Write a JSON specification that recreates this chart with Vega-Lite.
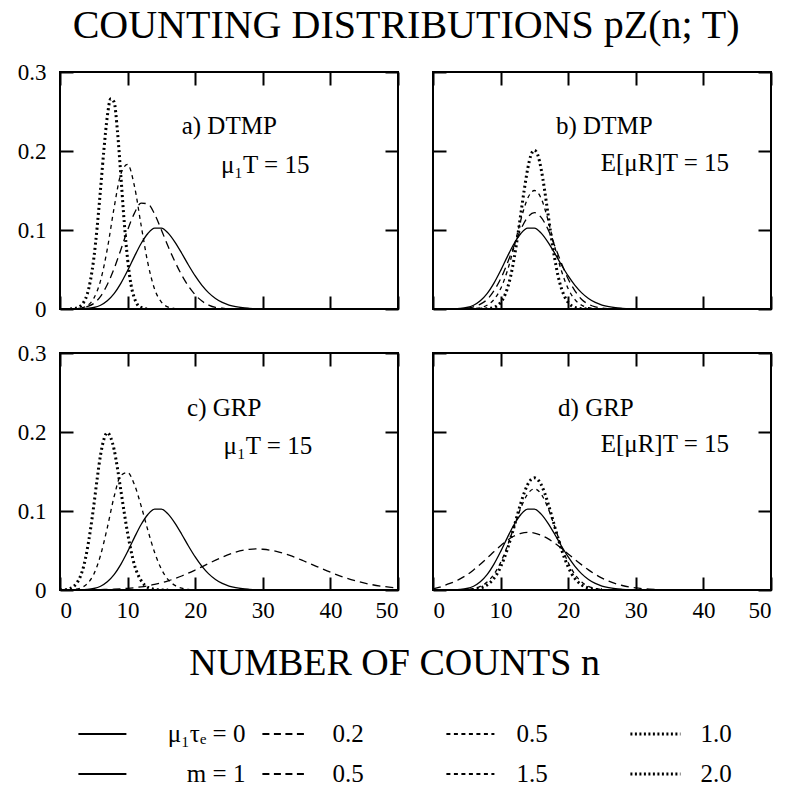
{
  "$schema": "https://vega.github.io/schema/vega-lite/v6.json",
  "padding": {"left": 16, "top": 6, "right": 10, "bottom": 0},
  "title": {"text": "COUNTING DISTRIBUTIONS pZ(n; T)", "fontSize": 40, "font": "Liberation Serif", "fontWeight": "normal", "anchor": "middle", "offset": 14, "color": "black"},
  "datasets": {
    "poisson": [
      {"n":0,"p":0},{"n":1,"p":0},{"n":2,"p":0.00003},{"n":3,"p":0.00017},{"n":4,"p":0.00065},{"n":5,"p":0.0019},{"n":6,"p":0.0048},{"n":7,"p":0.0104},{"n":8,"p":0.0194},{"n":9,"p":0.0324},{"n":10,"p":0.0486},{"n":11,"p":0.0663},{"n":12,"p":0.0829},{"n":13,"p":0.0956},{"n":14,"p":0.1024},{"n":15,"p":0.1024},{"n":16,"p":0.096},{"n":17,"p":0.0847},{"n":18,"p":0.0706},{"n":19,"p":0.0557},{"n":20,"p":0.0418},{"n":21,"p":0.0299},{"n":22,"p":0.0204},{"n":23,"p":0.0133},{"n":24,"p":0.0083},{"n":25,"p":0.005},{"n":26,"p":0.0029},{"n":27,"p":0.0016},{"n":28,"p":0.0009},{"n":29,"p":0.0004},{"n":30,"p":0.0002},{"n":31,"p":0.0001},{"n":32,"p":0},{"n":40,"p":0}
    ],
    "curves": [
      {"panel":"a","s":"s1","n":2,"p":0},{"panel":"a","s":"s1","n":3,"p":0.001},{"panel":"a","s":"s1","n":4,"p":0.003},{"panel":"a","s":"s1","n":5,"p":0.007},{"panel":"a","s":"s1","n":6,"p":0.016},{"panel":"a","s":"s1","n":7,"p":0.031},{"panel":"a","s":"s1","n":8,"p":0.051},{"panel":"a","s":"s1","n":9,"p":0.075},{"panel":"a","s":"s1","n":10,"p":0.1},{"panel":"a","s":"s1","n":11,"p":0.121},{"panel":"a","s":"s1","n":12,"p":0.134},{"panel":"a","s":"s1","n":13,"p":0.133},{"panel":"a","s":"s1","n":14,"p":0.12},{"panel":"a","s":"s1","n":15,"p":0.1},{"panel":"a","s":"s1","n":16,"p":0.079},{"panel":"a","s":"s1","n":17,"p":0.06},{"panel":"a","s":"s1","n":18,"p":0.043},{"panel":"a","s":"s1","n":19,"p":0.029},{"panel":"a","s":"s1","n":20,"p":0.018},{"panel":"a","s":"s1","n":21,"p":0.01},{"panel":"a","s":"s1","n":22,"p":0.005},{"panel":"a","s":"s1","n":23,"p":0.002},{"panel":"a","s":"s1","n":24,"p":0.001},{"panel":"a","s":"s1","n":25,"p":0},
      {"panel":"a","s":"s2","n":2,"p":0},{"panel":"a","s":"s2","n":3,"p":0.001},{"panel":"a","s":"s2","n":4,"p":0.004},{"panel":"a","s":"s2","n":5,"p":0.0135},{"panel":"a","s":"s2","n":6,"p":0.036},{"panel":"a","s":"s2","n":7,"p":0.076},{"panel":"a","s":"s2","n":8,"p":0.128},{"panel":"a","s":"s2","n":9,"p":0.171},{"panel":"a","s":"s2","n":10,"p":0.183},{"panel":"a","s":"s2","n":11,"p":0.156},{"panel":"a","s":"s2","n":12,"p":0.106},{"panel":"a","s":"s2","n":13,"p":0.058},{"panel":"a","s":"s2","n":14,"p":0.025},{"panel":"a","s":"s2","n":15,"p":0.0087},{"panel":"a","s":"s2","n":16,"p":0.0024},{"panel":"a","s":"s2","n":17,"p":0.0006},{"panel":"a","s":"s2","n":18,"p":0},
      {"panel":"a","s":"s3","n":1.5,"p":0},{"panel":"a","s":"s3","n":2,"p":0.0005},{"panel":"a","s":"s3","n":2.5,"p":0.0014},{"panel":"a","s":"s3","n":3,"p":0.0036},{"panel":"a","s":"s3","n":3.5,"p":0.0085},{"panel":"a","s":"s3","n":4,"p":0.018},{"panel":"a","s":"s3","n":4.5,"p":0.036},{"panel":"a","s":"s3","n":5,"p":0.064},{"panel":"a","s":"s3","n":5.5,"p":0.104},{"panel":"a","s":"s3","n":6,"p":0.152},{"panel":"a","s":"s3","n":6.5,"p":0.202},{"panel":"a","s":"s3","n":7,"p":0.244},{"panel":"a","s":"s3","n":7.5,"p":0.266},{"panel":"a","s":"s3","n":8,"p":0.262},{"panel":"a","s":"s3","n":8.5,"p":0.225},{"panel":"a","s":"s3","n":9,"p":0.169},{"panel":"a","s":"s3","n":9.5,"p":0.11},{"panel":"a","s":"s3","n":10,"p":0.063},{"panel":"a","s":"s3","n":10.5,"p":0.031},{"panel":"a","s":"s3","n":11,"p":0.014},{"panel":"a","s":"s3","n":11.5,"p":0.005},{"panel":"a","s":"s3","n":12,"p":0.002},{"panel":"a","s":"s3","n":12.5,"p":0.0005},{"panel":"a","s":"s3","n":13,"p":0},
      {"panel":"b","s":"s1","n":3,"p":0},{"panel":"b","s":"s1","n":4,"p":0.0004},{"panel":"b","s":"s1","n":5,"p":0.0011},{"panel":"b","s":"s1","n":6,"p":0.0027},{"panel":"b","s":"s1","n":7,"p":0.0061},{"panel":"b","s":"s1","n":8,"p":0.012},{"panel":"b","s":"s1","n":9,"p":0.023},{"panel":"b","s":"s1","n":10,"p":0.038},{"panel":"b","s":"s1","n":11,"p":0.058},{"panel":"b","s":"s1","n":12,"p":0.08},{"panel":"b","s":"s1","n":13,"p":0.101},{"panel":"b","s":"s1","n":14,"p":0.116},{"panel":"b","s":"s1","n":15,"p":0.122},{"panel":"b","s":"s1","n":16,"p":0.116},{"panel":"b","s":"s1","n":17,"p":0.101},{"panel":"b","s":"s1","n":18,"p":0.08},{"panel":"b","s":"s1","n":19,"p":0.058},{"panel":"b","s":"s1","n":20,"p":0.038},{"panel":"b","s":"s1","n":21,"p":0.023},{"panel":"b","s":"s1","n":22,"p":0.012},{"panel":"b","s":"s1","n":23,"p":0.0061},{"panel":"b","s":"s1","n":24,"p":0.0027},{"panel":"b","s":"s1","n":25,"p":0.0011},{"panel":"b","s":"s1","n":26,"p":0.0004},{"panel":"b","s":"s1","n":27,"p":0},
      {"panel":"b","s":"s2","n":4,"p":0},{"panel":"b","s":"s2","n":5,"p":0.0001},{"panel":"b","s":"s2","n":6,"p":0.0005},{"panel":"b","s":"s2","n":7,"p":0.0016},{"panel":"b","s":"s2","n":8,"p":0.0047},{"panel":"b","s":"s2","n":9,"p":0.0118},{"panel":"b","s":"s2","n":10,"p":0.0256},{"panel":"b","s":"s2","n":11,"p":0.0484},{"panel":"b","s":"s2","n":12,"p":0.079},{"panel":"b","s":"s2","n":13,"p":0.113},{"panel":"b","s":"s2","n":14,"p":0.14},{"panel":"b","s":"s2","n":15,"p":0.15},{"panel":"b","s":"s2","n":16,"p":0.14},{"panel":"b","s":"s2","n":17,"p":0.113},{"panel":"b","s":"s2","n":18,"p":0.079},{"panel":"b","s":"s2","n":19,"p":0.0484},{"panel":"b","s":"s2","n":20,"p":0.0256},{"panel":"b","s":"s2","n":21,"p":0.0118},{"panel":"b","s":"s2","n":22,"p":0.0047},{"panel":"b","s":"s2","n":23,"p":0.0016},{"panel":"b","s":"s2","n":24,"p":0.0005},{"panel":"b","s":"s2","n":25,"p":0.0001},{"panel":"b","s":"s2","n":26,"p":0},
      {"panel":"b","s":"s3","n":7,"p":0},{"panel":"b","s":"s3","n":7.5,"p":0.0002},{"panel":"b","s":"s3","n":8,"p":0.0004},{"panel":"b","s":"s3","n":8.5,"p":0.0009},{"panel":"b","s":"s3","n":9,"p":0.002},{"panel":"b","s":"s3","n":9.5,"p":0.0042},{"panel":"b","s":"s3","n":10,"p":0.0083},{"panel":"b","s":"s3","n":10.5,"p":0.0152},{"panel":"b","s":"s3","n":11,"p":0.026},{"panel":"b","s":"s3","n":11.5,"p":0.042},{"panel":"b","s":"s3","n":12,"p":0.064},{"panel":"b","s":"s3","n":12.5,"p":0.091},{"panel":"b","s":"s3","n":13,"p":0.121},{"panel":"b","s":"s3","n":13.5,"p":0.151},{"panel":"b","s":"s3","n":14,"p":0.177},{"panel":"b","s":"s3","n":14.5,"p":0.195},{"panel":"b","s":"s3","n":15,"p":0.201},{"panel":"b","s":"s3","n":15.5,"p":0.195},{"panel":"b","s":"s3","n":16,"p":0.177},{"panel":"b","s":"s3","n":16.5,"p":0.151},{"panel":"b","s":"s3","n":17,"p":0.121},{"panel":"b","s":"s3","n":17.5,"p":0.091},{"panel":"b","s":"s3","n":18,"p":0.064},{"panel":"b","s":"s3","n":18.5,"p":0.042},{"panel":"b","s":"s3","n":19,"p":0.026},{"panel":"b","s":"s3","n":19.5,"p":0.0152},{"panel":"b","s":"s3","n":20,"p":0.0083},{"panel":"b","s":"s3","n":20.5,"p":0.0042},{"panel":"b","s":"s3","n":21,"p":0.002},{"panel":"b","s":"s3","n":21.5,"p":0.0009},{"panel":"b","s":"s3","n":22,"p":0.0004},{"panel":"b","s":"s3","n":22.5,"p":0.0002},{"panel":"b","s":"s3","n":23,"p":0},
      {"panel":"c","s":"s1","n":2,"p":0},{"panel":"c","s":"s1","n":4,"p":0.0002},{"panel":"c","s":"s1","n":6,"p":0.0005},{"panel":"c","s":"s1","n":8,"p":0.001},{"panel":"c","s":"s1","n":10,"p":0.0021},{"panel":"c","s":"s1","n":12,"p":0.004},{"panel":"c","s":"s1","n":14,"p":0.007},{"panel":"c","s":"s1","n":16,"p":0.0116},{"panel":"c","s":"s1","n":18,"p":0.0177},{"panel":"c","s":"s1","n":20,"p":0.0253},{"panel":"c","s":"s1","n":22,"p":0.0336},{"panel":"c","s":"s1","n":24,"p":0.0416},{"panel":"c","s":"s1","n":26,"p":0.048},{"panel":"c","s":"s1","n":28,"p":0.0515},{"panel":"c","s":"s1","n":29,"p":0.052},{"panel":"c","s":"s1","n":30,"p":0.0516},{"panel":"c","s":"s1","n":32,"p":0.0489},{"panel":"c","s":"s1","n":34,"p":0.0437},{"panel":"c","s":"s1","n":36,"p":0.037},{"panel":"c","s":"s1","n":38,"p":0.0297},{"panel":"c","s":"s1","n":40,"p":0.0225},{"panel":"c","s":"s1","n":42,"p":0.0161},{"panel":"c","s":"s1","n":44,"p":0.011},{"panel":"c","s":"s1","n":46,"p":0.007},{"panel":"c","s":"s1","n":48,"p":0.0043},{"panel":"c","s":"s1","n":50,"p":0.0025},
      {"panel":"c","s":"s2","n":0,"p":0},{"panel":"c","s":"s2","n":1,"p":0.0001},{"panel":"c","s":"s2","n":2,"p":0.0006},{"panel":"c","s":"s2","n":3,"p":0.0024},{"panel":"c","s":"s2","n":4,"p":0.0077},{"panel":"c","s":"s2","n":5,"p":0.02},{"panel":"c","s":"s2","n":6,"p":0.044},{"panel":"c","s":"s2","n":7,"p":0.079},{"panel":"c","s":"s2","n":8,"p":0.118},{"panel":"c","s":"s2","n":9,"p":0.145},{"panel":"c","s":"s2","n":10,"p":0.1486},{"panel":"c","s":"s2","n":11,"p":0.1336},{"panel":"c","s":"s2","n":12,"p":0.1065},{"panel":"c","s":"s2","n":13,"p":0.0755},{"panel":"c","s":"s2","n":14,"p":0.0474},{"panel":"c","s":"s2","n":15,"p":0.0264},{"panel":"c","s":"s2","n":16,"p":0.0131},{"panel":"c","s":"s2","n":17,"p":0.0058},{"panel":"c","s":"s2","n":18,"p":0.0023},{"panel":"c","s":"s2","n":19,"p":0.0008},{"panel":"c","s":"s2","n":20,"p":0.0002},{"panel":"c","s":"s2","n":21,"p":0},
      {"panel":"c","s":"s3","n":0,"p":0.0001},{"panel":"c","s":"s3","n":0.5,"p":0.0003},{"panel":"c","s":"s3","n":1,"p":0.0008},{"panel":"c","s":"s3","n":1.5,"p":0.0019},{"panel":"c","s":"s3","n":2,"p":0.0042},{"panel":"c","s":"s3","n":2.5,"p":0.0088},{"panel":"c","s":"s3","n":3,"p":0.017},{"panel":"c","s":"s3","n":3.5,"p":0.03},{"panel":"c","s":"s3","n":4,"p":0.05},{"panel":"c","s":"s3","n":4.5,"p":0.076},{"panel":"c","s":"s3","n":5,"p":0.107},{"panel":"c","s":"s3","n":5.5,"p":0.141},{"panel":"c","s":"s3","n":6,"p":0.171},{"panel":"c","s":"s3","n":6.5,"p":0.191},{"panel":"c","s":"s3","n":7,"p":0.199},{"panel":"c","s":"s3","n":7.5,"p":0.193},{"panel":"c","s":"s3","n":8,"p":0.178},{"panel":"c","s":"s3","n":8.5,"p":0.154},{"panel":"c","s":"s3","n":9,"p":0.126},{"panel":"c","s":"s3","n":9.5,"p":0.098},{"panel":"c","s":"s3","n":10,"p":0.072},{"panel":"c","s":"s3","n":10.5,"p":0.05},{"panel":"c","s":"s3","n":11,"p":0.032},{"panel":"c","s":"s3","n":11.5,"p":0.02},{"panel":"c","s":"s3","n":12,"p":0.012},{"panel":"c","s":"s3","n":12.5,"p":0.0064},{"panel":"c","s":"s3","n":13,"p":0.0033},{"panel":"c","s":"s3","n":13.5,"p":0.0017},{"panel":"c","s":"s3","n":14,"p":0.0008},{"panel":"c","s":"s3","n":14.5,"p":0.0003},{"panel":"c","s":"s3","n":15,"p":0.0001},{"panel":"c","s":"s3","n":16,"p":0},
      {"panel":"d","s":"s1","n":0,"p":0.0015},{"panel":"d","s":"s1","n":1,"p":0.0035},{"panel":"d","s":"s1","n":2,"p":0.0068},{"panel":"d","s":"s1","n":3,"p":0.0099},{"panel":"d","s":"s1","n":4,"p":0.014},{"panel":"d","s":"s1","n":5,"p":0.0191},{"panel":"d","s":"s1","n":6,"p":0.0253},{"panel":"d","s":"s1","n":7,"p":0.0325},{"panel":"d","s":"s1","n":8,"p":0.0403},{"panel":"d","s":"s1","n":9,"p":0.0483},{"panel":"d","s":"s1","n":10,"p":0.0561},{"panel":"d","s":"s1","n":11,"p":0.0629},{"panel":"d","s":"s1","n":12,"p":0.0683},{"panel":"d","s":"s1","n":13,"p":0.0718},{"panel":"d","s":"s1","n":14,"p":0.073},{"panel":"d","s":"s1","n":15,"p":0.0721},{"panel":"d","s":"s1","n":16,"p":0.0693},{"panel":"d","s":"s1","n":17,"p":0.065},{"panel":"d","s":"s1","n":18,"p":0.0593},{"panel":"d","s":"s1","n":19,"p":0.0527},{"panel":"d","s":"s1","n":20,"p":0.0457},{"panel":"d","s":"s1","n":21,"p":0.0386},{"panel":"d","s":"s1","n":22,"p":0.0318},{"panel":"d","s":"s1","n":23,"p":0.0255},{"panel":"d","s":"s1","n":24,"p":0.0199},{"panel":"d","s":"s1","n":25,"p":0.0151},{"panel":"d","s":"s1","n":26,"p":0.0112},{"panel":"d","s":"s1","n":27,"p":0.0081},{"panel":"d","s":"s1","n":28,"p":0.0057},{"panel":"d","s":"s1","n":29,"p":0.0039},{"panel":"d","s":"s1","n":30,"p":0.0026},{"panel":"d","s":"s1","n":31,"p":0.0017},{"panel":"d","s":"s1","n":32,"p":0.0011},{"panel":"d","s":"s1","n":33,"p":0.0007},{"panel":"d","s":"s1","n":34,"p":0.0004},{"panel":"d","s":"s1","n":35,"p":0.0002},{"panel":"d","s":"s1","n":36,"p":0.0001},{"panel":"d","s":"s1","n":38,"p":0},
      {"panel":"d","s":"s2","n":3,"p":0.0001},{"panel":"d","s":"s2","n":4,"p":0.0002},{"panel":"d","s":"s2","n":5,"p":0.0007},{"panel":"d","s":"s2","n":6,"p":0.0019},{"panel":"d","s":"s2","n":7,"p":0.0046},{"panel":"d","s":"s2","n":8,"p":0.01},{"panel":"d","s":"s2","n":9,"p":0.0197},{"panel":"d","s":"s2","n":10,"p":0.0348},{"panel":"d","s":"s2","n":11,"p":0.0557},{"panel":"d","s":"s2","n":12,"p":0.08},{"panel":"d","s":"s2","n":13,"p":0.104},{"panel":"d","s":"s2","n":14,"p":0.1215},{"panel":"d","s":"s2","n":15,"p":0.128},{"panel":"d","s":"s2","n":16,"p":0.1215},{"panel":"d","s":"s2","n":17,"p":0.104},{"panel":"d","s":"s2","n":18,"p":0.08},{"panel":"d","s":"s2","n":19,"p":0.0557},{"panel":"d","s":"s2","n":20,"p":0.0348},{"panel":"d","s":"s2","n":21,"p":0.0197},{"panel":"d","s":"s2","n":22,"p":0.01},{"panel":"d","s":"s2","n":23,"p":0.0046},{"panel":"d","s":"s2","n":24,"p":0.0019},{"panel":"d","s":"s2","n":25,"p":0.0007},{"panel":"d","s":"s2","n":26,"p":0.0002},{"panel":"d","s":"s2","n":27,"p":0.0001},
      {"panel":"d","s":"s3","n":5,"p":0.0003},{"panel":"d","s":"s3","n":5.5,"p":0.0005},{"panel":"d","s":"s3","n":6,"p":0.0008},{"panel":"d","s":"s3","n":6.5,"p":0.0015},{"panel":"d","s":"s3","n":7,"p":0.0025},{"panel":"d","s":"s3","n":7.5,"p":0.004},{"panel":"d","s":"s3","n":8,"p":0.0064},{"panel":"d","s":"s3","n":8.5,"p":0.0098},{"panel":"d","s":"s3","n":9,"p":0.0146},{"panel":"d","s":"s3","n":9.5,"p":0.0208},{"panel":"d","s":"s3","n":10,"p":0.0292},{"panel":"d","s":"s3","n":10.5,"p":0.0394},{"panel":"d","s":"s3","n":11,"p":0.0516},{"panel":"d","s":"s3","n":11.5,"p":0.0655},{"panel":"d","s":"s3","n":12,"p":0.0803},{"panel":"d","s":"s3","n":12.5,"p":0.0956},{"panel":"d","s":"s3","n":13,"p":0.1102},{"panel":"d","s":"s3","n":13.5,"p":0.1232},{"panel":"d","s":"s3","n":14,"p":0.1334},{"panel":"d","s":"s3","n":14.5,"p":0.1398},{"panel":"d","s":"s3","n":15,"p":0.142},{"panel":"d","s":"s3","n":15.5,"p":0.1398},{"panel":"d","s":"s3","n":16,"p":0.1334},{"panel":"d","s":"s3","n":16.5,"p":0.1232},{"panel":"d","s":"s3","n":17,"p":0.1102},{"panel":"d","s":"s3","n":17.5,"p":0.0956},{"panel":"d","s":"s3","n":18,"p":0.0803},{"panel":"d","s":"s3","n":18.5,"p":0.0655},{"panel":"d","s":"s3","n":19,"p":0.0516},{"panel":"d","s":"s3","n":19.5,"p":0.0394},{"panel":"d","s":"s3","n":20,"p":0.0292},{"panel":"d","s":"s3","n":20.5,"p":0.0208},{"panel":"d","s":"s3","n":21,"p":0.0146},{"panel":"d","s":"s3","n":21.5,"p":0.0098},{"panel":"d","s":"s3","n":22,"p":0.0064},{"panel":"d","s":"s3","n":22.5,"p":0.004},{"panel":"d","s":"s3","n":23,"p":0.0025},{"panel":"d","s":"s3","n":23.5,"p":0.0015},{"panel":"d","s":"s3","n":24,"p":0.0008},{"panel":"d","s":"s3","n":24.5,"p":0.0005},{"panel":"d","s":"s3","n":25,"p":0.0003}
    ],
    "notes": [
      {"panel":"a","n":18.0,"p":0.221,"text":"a) DTMP"},{"panel":"a","n":23.8,"p":0.172,"text":"μ₁T = 15"},
      {"panel":"b","n":18.2,"p":0.221,"text":"b) DTMP"},{"panel":"b","n":24.8,"p":0.175,"text":"E[μR]T = 15"},
      {"panel":"c","n":18.8,"p":0.22,"text":"c) GRP"},{"panel":"c","n":24.2,"p":0.172,"text":"μ₁T = 15"},
      {"panel":"d","n":18.5,"p":0.22,"text":"d) GRP"},{"panel":"d","n":24.8,"p":0.175,"text":"E[μR]T = 15"}
    ],
    "legend": [
      {"col":1,"row":1,"s":"s0","label":"μ₁τₑ = 0"},{"col":2,"row":1,"s":"s1","label":"0.2"},{"col":3,"row":1,"s":"s2","label":"0.5"},{"col":4,"row":1,"s":"s3","label":"1.0"},
      {"col":1,"row":2,"s":"s0","label":"m = 1"},{"col":2,"row":2,"s":"s1","label":"0.5"},{"col":3,"row":2,"s":"s2","label":"1.5"},{"col":4,"row":2,"s":"s3","label":"2.0"}
    ]
  },
  "vconcat": [
    {
      "spacing": 19,
      "vconcat": [
        {
          "spacing": 31,
          "hconcat": [
            {
              "width": 338, "height": 237,
              "layer": [
                {"data": {"name": "poisson"}, "mark": {"type": "line", "interpolate": "monotone", "color": "black", "strokeWidth": 1.3, "clip": true},
                 "encoding": {"x": {"field": "n", "type": "quantitative", "scale": {"domain": [0, 50], "nice": false}, "axis": {"orient": "bottom", "values": [0,10,20,30,40,50], "labels": false, "title": null}},
                              "y": {"field": "p", "type": "quantitative", "scale": {"domain": [0, 0.3], "nice": false}, "axis": {"orient": "left", "values": [0,0.1,0.2,0.3], "labelExpr": "datum.value == 0 ? '0' : format(datum.value, '.1f')", "title": null}}}},
                {"data": {"name": "curves"}, "transform": [{"filter": "datum.panel == 'a' && datum.s == 's1'"}], "mark": {"type": "line", "interpolate": "monotone", "color": "black", "strokeWidth": 1.3, "strokeDash": [8, 5], "clip": true},
                 "encoding": {"x": {"field": "n", "type": "quantitative", "axis": null}, "y": {"field": "p", "type": "quantitative", "axis": null}}},
                {"data": {"name": "curves"}, "transform": [{"filter": "datum.panel == 'a' && datum.s == 's2'"}], "mark": {"type": "line", "interpolate": "monotone", "color": "black", "strokeWidth": 1.3, "strokeDash": [4, 4], "clip": true},
                 "encoding": {"x": {"field": "n", "type": "quantitative", "axis": null}, "y": {"field": "p", "type": "quantitative", "axis": null}}},
                {"data": {"name": "curves"}, "transform": [{"filter": "datum.panel == 'a' && datum.s == 's3'"}], "mark": {"type": "line", "interpolate": "monotone", "color": "black", "strokeWidth": 3, "strokeDash": [2, 3], "strokeCap": "butt", "clip": true},
                 "encoding": {"x": {"field": "n", "type": "quantitative", "axis": null}, "y": {"field": "p", "type": "quantitative", "axis": null}}},
                {"data": {"name": "notes"}, "transform": [{"filter": "datum.panel == 'a'"}], "mark": {"type": "text", "align": "left", "baseline": "alphabetic", "fontSize": 25, "font": "Liberation Serif", "color": "black"},
                 "encoding": {"x": {"field": "n", "type": "quantitative", "axis": {"orient": "top", "values": [0,10,20,30,40,50], "labels": false, "title": null}},
                              "y": {"field": "p", "type": "quantitative", "axis": {"orient": "right", "values": [0,0.1,0.2,0.3], "labels": false, "title": null}},
                              "text": {"field": "text"}}}
              ],
              "resolve": {"axis": {"x": "independent", "y": "independent"}}
            },
            {
              "width": 338, "height": 237,
              "layer": [
                {"data": {"name": "poisson"}, "mark": {"type": "line", "interpolate": "monotone", "color": "black", "strokeWidth": 1.3, "clip": true},
                 "encoding": {"x": {"field": "n", "type": "quantitative", "scale": {"domain": [0, 50], "nice": false}, "axis": {"orient": "bottom", "values": [0,10,20,30,40,50], "labels": false, "title": null}},
                              "y": {"field": "p", "type": "quantitative", "scale": {"domain": [0, 0.3], "nice": false}, "axis": {"orient": "left", "values": [0,0.1,0.2,0.3], "labels": false, "title": null}}}},
                {"data": {"name": "curves"}, "transform": [{"filter": "datum.panel == 'b' && datum.s == 's1'"}], "mark": {"type": "line", "interpolate": "monotone", "color": "black", "strokeWidth": 1.3, "strokeDash": [8, 5], "clip": true},
                 "encoding": {"x": {"field": "n", "type": "quantitative", "axis": null}, "y": {"field": "p", "type": "quantitative", "axis": null}}},
                {"data": {"name": "curves"}, "transform": [{"filter": "datum.panel == 'b' && datum.s == 's2'"}], "mark": {"type": "line", "interpolate": "monotone", "color": "black", "strokeWidth": 1.3, "strokeDash": [4, 4], "clip": true},
                 "encoding": {"x": {"field": "n", "type": "quantitative", "axis": null}, "y": {"field": "p", "type": "quantitative", "axis": null}}},
                {"data": {"name": "curves"}, "transform": [{"filter": "datum.panel == 'b' && datum.s == 's3'"}], "mark": {"type": "line", "interpolate": "monotone", "color": "black", "strokeWidth": 3, "strokeDash": [2, 3], "strokeCap": "butt", "clip": true},
                 "encoding": {"x": {"field": "n", "type": "quantitative", "axis": null}, "y": {"field": "p", "type": "quantitative", "axis": null}}},
                {"data": {"name": "notes"}, "transform": [{"filter": "datum.panel == 'b'"}], "mark": {"type": "text", "align": "left", "baseline": "alphabetic", "fontSize": 25, "font": "Liberation Serif", "color": "black"},
                 "encoding": {"x": {"field": "n", "type": "quantitative", "axis": {"orient": "top", "values": [0,10,20,30,40,50], "labels": false, "title": null}},
                              "y": {"field": "p", "type": "quantitative", "axis": {"orient": "right", "values": [0,0.1,0.2,0.3], "labels": false, "title": null}},
                              "text": {"field": "text"}}}
              ],
              "resolve": {"axis": {"x": "independent", "y": "independent"}}
            }
          ]
        },
        {
          "spacing": 31,
          "title": {"text": "NUMBER OF COUNTS n", "orient": "bottom", "fontSize": 38, "font": "Liberation Serif", "fontWeight": "normal", "color": "black", "offset": 22, "anchor": "middle"},
          "hconcat": [
            {
              "width": 338, "height": 237,
              "layer": [
                {"data": {"name": "poisson"}, "mark": {"type": "line", "interpolate": "monotone", "color": "black", "strokeWidth": 1.3, "clip": true},
                 "encoding": {"x": {"field": "n", "type": "quantitative", "scale": {"domain": [0, 50], "nice": false}, "axis": {"orient": "bottom", "values": [0,10,20,30,40,50], "title": null}},
                              "y": {"field": "p", "type": "quantitative", "scale": {"domain": [0, 0.3], "nice": false}, "axis": {"orient": "left", "values": [0,0.1,0.2,0.3], "labelExpr": "datum.value == 0 ? '0' : format(datum.value, '.1f')", "title": null}}}},
                {"data": {"name": "curves"}, "transform": [{"filter": "datum.panel == 'c' && datum.s == 's1'"}], "mark": {"type": "line", "interpolate": "monotone", "color": "black", "strokeWidth": 1.3, "strokeDash": [8, 5], "clip": true},
                 "encoding": {"x": {"field": "n", "type": "quantitative", "axis": null}, "y": {"field": "p", "type": "quantitative", "axis": null}}},
                {"data": {"name": "curves"}, "transform": [{"filter": "datum.panel == 'c' && datum.s == 's2'"}], "mark": {"type": "line", "interpolate": "monotone", "color": "black", "strokeWidth": 1.3, "strokeDash": [4, 4], "clip": true},
                 "encoding": {"x": {"field": "n", "type": "quantitative", "axis": null}, "y": {"field": "p", "type": "quantitative", "axis": null}}},
                {"data": {"name": "curves"}, "transform": [{"filter": "datum.panel == 'c' && datum.s == 's3'"}], "mark": {"type": "line", "interpolate": "monotone", "color": "black", "strokeWidth": 3, "strokeDash": [2, 3], "strokeCap": "butt", "clip": true},
                 "encoding": {"x": {"field": "n", "type": "quantitative", "axis": null}, "y": {"field": "p", "type": "quantitative", "axis": null}}},
                {"data": {"name": "notes"}, "transform": [{"filter": "datum.panel == 'c'"}], "mark": {"type": "text", "align": "left", "baseline": "alphabetic", "fontSize": 25, "font": "Liberation Serif", "color": "black"},
                 "encoding": {"x": {"field": "n", "type": "quantitative", "axis": {"orient": "top", "values": [0,10,20,30,40,50], "labels": false, "title": null}},
                              "y": {"field": "p", "type": "quantitative", "axis": {"orient": "right", "values": [0,0.1,0.2,0.3], "labels": false, "title": null}},
                              "text": {"field": "text"}}}
              ],
              "resolve": {"axis": {"x": "independent", "y": "independent"}}
            },
            {
              "width": 338, "height": 237,
              "layer": [
                {"data": {"name": "poisson"}, "mark": {"type": "line", "interpolate": "monotone", "color": "black", "strokeWidth": 1.3, "clip": true},
                 "encoding": {"x": {"field": "n", "type": "quantitative", "scale": {"domain": [0, 50], "nice": false}, "axis": {"orient": "bottom", "values": [0,10,20,30,40,50], "title": null}},
                              "y": {"field": "p", "type": "quantitative", "scale": {"domain": [0, 0.3], "nice": false}, "axis": {"orient": "left", "values": [0,0.1,0.2,0.3], "labels": false, "title": null}}}},
                {"data": {"name": "curves"}, "transform": [{"filter": "datum.panel == 'd' && datum.s == 's1'"}], "mark": {"type": "line", "interpolate": "monotone", "color": "black", "strokeWidth": 1.3, "strokeDash": [8, 5], "clip": true},
                 "encoding": {"x": {"field": "n", "type": "quantitative", "axis": null}, "y": {"field": "p", "type": "quantitative", "axis": null}}},
                {"data": {"name": "curves"}, "transform": [{"filter": "datum.panel == 'd' && datum.s == 's2'"}], "mark": {"type": "line", "interpolate": "monotone", "color": "black", "strokeWidth": 1.3, "strokeDash": [4, 4], "clip": true},
                 "encoding": {"x": {"field": "n", "type": "quantitative", "axis": null}, "y": {"field": "p", "type": "quantitative", "axis": null}}},
                {"data": {"name": "curves"}, "transform": [{"filter": "datum.panel == 'd' && datum.s == 's3'"}], "mark": {"type": "line", "interpolate": "monotone", "color": "black", "strokeWidth": 3, "strokeDash": [2, 3], "strokeCap": "butt", "clip": true},
                 "encoding": {"x": {"field": "n", "type": "quantitative", "axis": null}, "y": {"field": "p", "type": "quantitative", "axis": null}}},
                {"data": {"name": "notes"}, "transform": [{"filter": "datum.panel == 'd'"}], "mark": {"type": "text", "align": "left", "baseline": "alphabetic", "fontSize": 25, "font": "Liberation Serif", "color": "black"},
                 "encoding": {"x": {"field": "n", "type": "quantitative", "axis": {"orient": "top", "values": [0,10,20,30,40,50], "labels": false, "title": null}},
                              "y": {"field": "p", "type": "quantitative", "axis": {"orient": "right", "values": [0,0.1,0.2,0.3], "labels": false, "title": null}},
                              "text": {"field": "text"}}}
              ],
              "resolve": {"axis": {"x": "independent", "y": "independent"}}
            }
          ]
        }
      ]
    },
    {
      "width": 736, "height": 56,
      "view": {"stroke": null},
      "data": {"name": "legend"},
      "encoding": {
        "x": {"field": "col", "type": "quantitative", "scale": {"domain": [0.9, 4.9], "nice": false, "zero": false}, "axis": null},
        "y": {"field": "row", "type": "ordinal", "scale": {"type": "point", "padding": 0.2}, "axis": null}
      },
      "layer": [
        {"transform": [{"filter": "datum.s == 's0'"}], "mark": {"type": "rule", "x2Offset": 48, "color": "black", "strokeWidth": 2}, "encoding": {"x2": {"field": "col"}}},
        {"transform": [{"filter": "datum.s == 's1'"}], "mark": {"type": "rule", "x2Offset": 42, "color": "black", "strokeWidth": 2, "strokeDash": [7, 4.5]}, "encoding": {"x2": {"field": "col"}}},
        {"transform": [{"filter": "datum.s == 's2'"}], "mark": {"type": "rule", "x2Offset": 48, "color": "black", "strokeWidth": 2, "strokeDash": [4, 3.5]}, "encoding": {"x2": {"field": "col"}}},
        {"transform": [{"filter": "datum.s == 's3'"}], "mark": {"type": "rule", "x2Offset": 50, "color": "black", "strokeWidth": 3, "strokeDash": [2, 2.5], "strokeCap": "butt"}, "encoding": {"x2": {"field": "col"}}},
        {"transform": [{"filter": "datum.col == 1"}], "mark": {"type": "text", "align": "right", "baseline": "middle", "dx": 167, "fontSize": 25, "font": "Liberation Serif", "color": "black"},
         "encoding": {"text": {"field": "label"}}},
        {"transform": [{"filter": "datum.col > 1"}], "mark": {"type": "text", "align": "left", "baseline": "middle", "dx": 70, "fontSize": 25, "font": "Liberation Serif", "color": "black"},
         "encoding": {"text": {"field": "label"}}}
      ]
    }
  ],
  "spacing": 39,
  "config": {
    "font": "Liberation Serif",
    "view": {"stroke": "black", "strokeWidth": 2},
    "axis": {"grid": false, "domain": false, "tickSize": -13, "tickWidth": 2, "tickColor": "black", "labelFont": "Liberation Serif", "labelFontSize": 23, "labelColor": "black"},
    "axisX": {"labelPadding": 22},
    "axisY": {"labelPadding": 27}
  }
}
